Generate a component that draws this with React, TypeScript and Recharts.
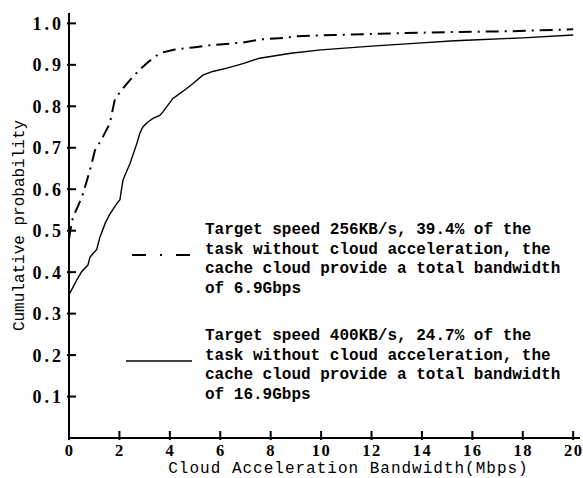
import React from 'react';
import { LineChart, Line, XAxis, YAxis, Legend, Label } from 'recharts';

const xTicks = [0, 2, 4, 6, 8, 10, 12, 14, 16, 18, 20];
const yTicks = [0.1, 0.2, 0.3, 0.4, 0.5, 0.6, 0.7, 0.8, 0.9, 1.0];

const speed256X = [0, 0.05, 0.16, 0.37, 0.56, 0.83, 1.03, 1.1, 1.36, 1.62, 1.82, 2.08, 2.4, 2.81, 3.13, 3.4, 3.72, 4.2, 4.92, 5.58, 6.9, 7.56, 8.5, 9.0, 10.5, 12.3, 15, 17.5, 19.6, 20];
const speed256Y = [0.48, 0.5, 0.533, 0.561, 0.59, 0.646, 0.694, 0.7, 0.728, 0.759, 0.817, 0.839, 0.862, 0.889, 0.906, 0.92, 0.93, 0.937, 0.942, 0.947, 0.954, 0.961, 0.965, 0.969, 0.972, 0.975, 0.979, 0.981, 0.985, 0.986];

const speed400X = [0, 0.16, 0.3, 0.5, 0.75, 0.83, 1.1, 1.23, 1.45, 1.62, 1.9, 2.02, 2.14, 2.42, 2.69, 2.81, 2.93, 3.13, 3.33, 3.6, 3.72, 4.12, 4.2, 4.67, 4.92, 5.31, 5.7, 6.26, 6.9, 7.56, 8.8, 10, 12, 14, 15.3, 16, 18, 20];
const speed400Y = [0.345, 0.364, 0.38, 0.401, 0.417, 0.436, 0.455, 0.485, 0.52, 0.54, 0.566, 0.575, 0.622, 0.662, 0.71, 0.735, 0.75, 0.762, 0.771, 0.778, 0.786, 0.819, 0.822, 0.843, 0.855, 0.875, 0.884, 0.892, 0.903, 0.916, 0.928, 0.936, 0.945, 0.953, 0.958, 0.96, 0.965, 0.972];

const legend256 = [
  'Target speed 256KB/s, 39.4% of the',
  'task without cloud acceleration, the',
  'cache cloud provide a total bandwidth',
  'of 6.9Gbps',
];
const legend400 = [
  'Target speed 400KB/s, 24.7% of the',
  'task without cloud acceleration, the',
  'cache cloud provide a total bandwidth',
  'of 16.9Gbps',
];

const data256 = speed256X.map((x, i) => ({ x, y: speed256Y[i] }));
const data400 = speed400X.map((x, i) => ({ x, y: speed400Y[i] }));

const MONO = '"Liberation Mono", "DejaVu Sans Mono", monospace';
const SERIF = '"Liberation Serif", "DejaVu Serif", serif';

const XTick = (props: any) => {
  const { x, y, payload } = props;
  return (
    <g>
      <line x1={x} x2={x} y1={y} y2={y - 9} stroke="#000" strokeWidth={2} />
      <text x={x + 0.5} y={y + 16} textAnchor="middle" fontFamily={SERIF} fontWeight="bold" fontSize={16.5} letterSpacing={1.5} fill="#000">
        {payload.value}
      </text>
    </g>
  );
};

const YTick = (props: any) => {
  const { x, y, payload } = props;
  return (
    <g>
      <line x1={x} x2={x + 9} y1={y} y2={y} stroke="#000" strokeWidth={2} />
      <text x={x - 3} y={y} dy="0.36em" textAnchor="end" fontFamily={SERIF} fontWeight="bold" fontSize={18} letterSpacing={3} fill="#000">
        {Number(payload.value).toFixed(1)}
      </text>
    </g>
  );
};

const XTitle = (props: any) => {
  const vb = props.viewBox || {};
  return (
    <text x={vb.x + vb.width / 2 + 24} y={vb.y + 35} textAnchor="middle" fontFamily={MONO} fontSize={16} letterSpacing={1} fill="#000">
      Cloud Acceleration Bandwidth(Mbps)
    </text>
  );
};

const YTitle = (props: any) => {
  const vb = props.viewBox || {};
  const cx = vb.x + 18;
  const cy = vb.y + vb.height / 2;
  return (
    <text x={cx} y={cy} dy="0.35em" textAnchor="middle" transform={`rotate(-90, ${cx}, ${cy})`} fontFamily={MONO} fontSize={16} fill="#000">
      Cumulative probability
    </text>
  );
};

const LegendBlock = ({ lines, top, dash, x1 }: { lines: string[]; top: number; dash?: string; x1: number }) => (
  <>
    <svg style={{ position: 'absolute', left: 120, top: top + 29, overflow: 'visible' }} width={80} height={10}>
      <line x1={x1} x2={72} y1={5} y2={5} stroke="#000" strokeWidth={dash ? 2 : 1.5} strokeDasharray={dash} />
    </svg>
    <div style={{ position: 'absolute', left: 205, top, fontFamily: MONO, fontWeight: 'bold', fontSize: 16, lineHeight: '19.7px', whiteSpace: 'pre', color: '#000' }}>
      {lines.map((l, i) => (
        <div key={i}>{l}</div>
      ))}
    </div>
  </>
);

const LegendContent = () => (
  <div style={{ position: 'relative', width: 583, height: 478 }}>
    <LegendBlock lines={legend256} top={221} dash="14 14 2 14" x1={12} />
    <LegendBlock lines={legend400} top={327} x1={6} />
  </div>
);

export default function App() {
  return (
    <div style={{ position: 'absolute', left: 0, top: 0, background: '#fff' }}>
      <LineChart width={583} height={478} margin={{ top: 13, right: 3, bottom: 0, left: 0 }}>
        <XAxis
          type="number"
          dataKey="x"
          domain={[0, 20.27]}
          ticks={xTicks}
          allowDataOverflow
          height={40}
          tickSize={0}
          tickLine={false}
          tick={<XTick />}
          axisLine={{ stroke: '#000', strokeWidth: 2 }}
          interval={0}
          label={<Label content={<XTitle />} />}
        />
        <YAxis
          type="number"
          domain={[0, 1.025]}
          ticks={yTicks}
          allowDataOverflow
          width={69}
          tickSize={0}
          tickLine={false}
          tick={<YTick />}
          axisLine={{ stroke: '#000', strokeWidth: 2 }}
          interval={0}
          label={<Label content={<YTitle />} />}
        />
        <Legend
          verticalAlign="middle"
          align="center"
          layout="horizontal"
          wrapperStyle={{ position: 'absolute', left: 0, top: 0, width: 583, height: 478, pointerEvents: 'none' }}
          content={<LegendContent />}
        />
        <Line
          data={data256}
          dataKey="y"
          type="linear"
          stroke="#000"
          strokeWidth={2}
          strokeDasharray="13 6 2 6"
          dot={false}
          isAnimationActive={false}
        />
        <Line
          data={data400}
          dataKey="y"
          type="linear"
          stroke="#000"
          strokeWidth={1.4}
          dot={false}
          isAnimationActive={false}
        />
      </LineChart>
    </div>
  );
}
